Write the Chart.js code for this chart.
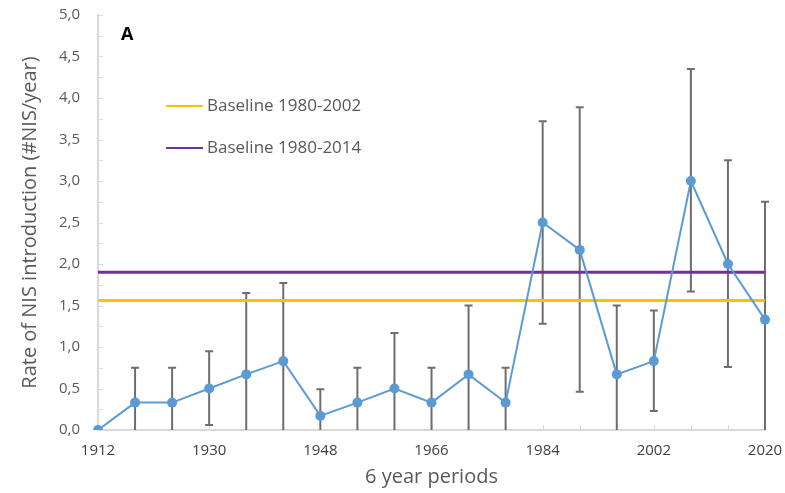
<!DOCTYPE html>
<html>
<head>
<meta charset="utf-8">
<script src="https://cdn.jsdelivr.net/npm/chart.js@4"></script>
<style>
  html, body { margin: 0; padding: 0; background: #fff; }
  #wrap { width: 785px; height: 493px; position: relative; }
</style>
</head>
<body>
<div id="wrap"><canvas id="chart"></canvas></div>
<script>
// 6 year periods
const periods = ['1912', '1918', '1924', '1930', '1936', '1942', '1948', '1954', '1960', '1966',
                 '1972', '1978', '1984', '1990', '1996', '2002', '2008', '2014', '2020'];
// rate of NIS introduction per period
const rates = [0, 0.33, 0.33, 0.5, 0.67, 0.83, 0.17, 0.33, 0.5, 0.33,
               0.67, 0.33, 2.5, 2.17, 0.67, 0.83, 3.0, 2.0, 1.33];
// error bar limits
const errLow  = [0, 0, 0, 0.06, 0, 0, 0, 0, 0, 0, 0, 0, 1.28, 0.46, 0, 0.23, 1.67, 0.76, 0];
const errHigh = [0, 0.75, 0.75, 0.95, 1.65, 1.77, 0.49, 0.75, 1.17, 0.75,
                 1.5, 0.75, 3.72, 3.89, 1.5, 1.44, 4.35, 3.25, 2.75];
// baselines
const baselineNames = ['Baseline 1980-2002', 'Baseline 1980-2014'];
const baselineValues = [1.56, 1.9];
const baselineColors = ['#ffc000', '#7030a0'];

const FONT = "'Open Sans', sans-serif";
const GREY = '#595959';

// gray error bars with caps, drawn under the series; small inside tick marks too
const errorBars = {
    id: 'errorBars',
    beforeDatasetsDraw(chart) {
        const ctx = chart.ctx;
        const x = chart.scales.x, y = chart.scales.y;
        const area = chart.chartArea;
        ctx.save();
        ctx.strokeStyle = '#d9d9d9';
        ctx.lineWidth = 1;
        ctx.beginPath();
        for (let v = 0; v <= 5; v += 0.25) {
            const py = Math.round(y.getPixelForValue(v)) + 0.5;
            ctx.moveTo(area.left, py); ctx.lineTo(area.left + 5, py);
        }
        periods.forEach((p, i) => {
            const px = Math.round(x.getPixelForValue(i)) + 0.5;
            ctx.moveTo(px, area.bottom); ctx.lineTo(px, area.bottom - 5);
        });
        ctx.stroke();

        ctx.strokeStyle = '#6e6e6e';
        ctx.lineWidth = 2;
        periods.forEach((p, i) => {
            if (errHigh[i] === errLow[i]) return;
            const px = x.getPixelForValue(i);
            const top = y.getPixelForValue(errHigh[i]);
            const bot = y.getPixelForValue(errLow[i]);
            ctx.beginPath();
            ctx.moveTo(px, bot); ctx.lineTo(px, top);
            ctx.moveTo(px - 4, top); ctx.lineTo(px + 4, top);
            if (errLow[i] > 0) { ctx.moveTo(px - 4, bot); ctx.lineTo(px + 4, bot); }
            ctx.stroke();
        });
        ctx.restore();
    }
};

// legend for the baselines plus the panel letter
const notes = {
    id: 'notes',
    afterDraw(chart) {
        const ctx = chart.ctx;
        ctx.save();
        ctx.font = "bold 18px " + FONT;
        ctx.fillStyle = '#000';
        ctx.textBaseline = 'middle';
        ctx.fillText('A', 121, 35);
        ctx.font = "17px " + FONT;
        ctx.fillStyle = GREY;
        baselineNames.forEach((name, i) => {
            const ly = 106 + i * 42;
            ctx.strokeStyle = baselineColors[i];
            ctx.lineWidth = 2;
            ctx.beginPath();
            ctx.moveTo(166, ly); ctx.lineTo(203, ly);
            ctx.stroke();
            ctx.fillText(name, 207, ly);
        });
        ctx.restore();
    }
};

const baselineSets = baselineValues.map((v, i) => ({
    label: baselineNames[i],
    data: [{ x: periods[0], y: v }, { x: periods[periods.length - 1], y: v }],
    borderColor: baselineColors[i],
    borderWidth: 3,
    pointRadius: 0,
    order: 2
}));

new Chart(document.getElementById('chart'), {
    type: 'line',
    data: {
        labels: periods,
        datasets: [
            {
                label: 'Rate',
                data: rates,
                borderColor: '#5b9bd5',
                backgroundColor: '#5b9bd5',
                borderWidth: 2,
                pointRadius: 5,
                pointBorderWidth: 0,
                order: 1
            },
            ...baselineSets
        ]
    },
    options: {
        responsive: true,
        maintainAspectRatio: false,
        animation: false,
        layout: { padding: { top: 15, right: 20, left: 18, bottom: 0 } },
        plugins: { legend: { display: false }, tooltip: { enabled: false } },
        scales: {
            x: {
                afterFit(s) { s.height = 63; s.paddingLeft = 0; s.paddingRight = 0; },
                grid: { display: false },
                border: { color: '#d9d9d9', width: 2 },
                ticks: {
                    autoSkip: false, maxRotation: 0, color: '#404040', padding: 4,
                    font: { family: FONT, size: 15 },
                    callback: (v, i) => (i % 3 === 0 ? periods[i] : '')
                },
                title: {
                    display: true, text: '6 year periods', color: GREY,
                    font: { family: FONT, size: 20 }, padding: { top: 0 }
                }
            },
            y: {
                min: 0, max: 5,
                afterFit(s) { s.width = 80; s.paddingTop = 0; s.paddingBottom = 0; },
                grid: { display: false },
                border: { color: '#d9d9d9', width: 2 },
                ticks: {
                    stepSize: 0.25, color: GREY, padding: 10,
                    font: { family: FONT, size: 15 },
                    callback: v => (Math.round(v * 4) % 2 === 0 ? v.toFixed(1).replace('.', ',') : '')
                },
                title: {
                    display: true, text: 'Rate of NIS introduction (#NIS/year)', color: GREY,
                    font: { family: FONT, size: 20 }, padding: 0
                }
            }
        }
    },
    plugins: [errorBars, notes]
});
</script>
</body>
</html>
